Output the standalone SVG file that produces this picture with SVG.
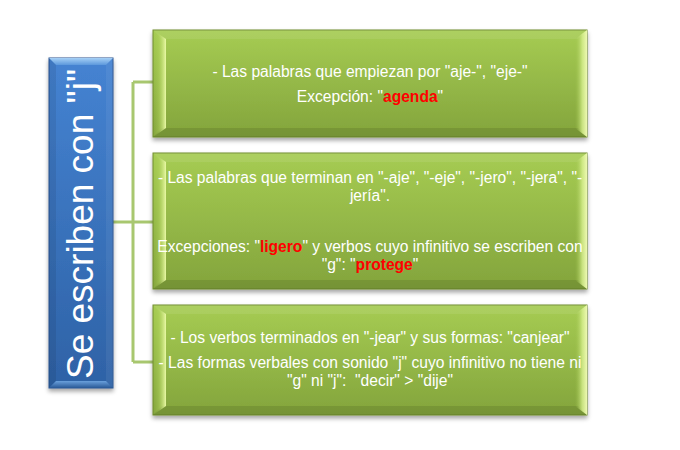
<svg xmlns="http://www.w3.org/2000/svg" width="680" height="450" viewBox="0 0 680 450">
<style>
.t{font-family:"Liberation Sans",Arial,sans-serif;font-size:15.6px;fill:#ffffff;text-anchor:middle}
.r{fill:#ff0000;font-weight:bold}
.conn{stroke:#a8c76f;stroke-width:3;fill:none}
.gbox{fill:url(#gGreen);stroke:#6e8c2e;stroke-width:1}
.gl{fill:url(#gLeft)}
.gr{fill:url(#gRight)}
.gt{fill:#ffffff;fill-opacity:0.08}
.gb{fill:#000000;fill-opacity:0.1}
</style>
<defs>
<filter id="sh" x="-10%" y="-10%" width="120%" height="130%">
<feDropShadow dx="0" dy="3" stdDeviation="2" flood-color="#000" flood-opacity="0.35"/>
</filter>
<linearGradient id="gGreen" x1="0" y1="0" x2="0" y2="1">
<stop offset="0" stop-color="#a6cc53"/>
<stop offset="1" stop-color="#83a43c"/>
</linearGradient>
<linearGradient id="gLeft" x1="0" y1="0" x2="1" y2="0">
<stop offset="0" stop-color="#a4c852" stop-opacity="0"/>
<stop offset="0.45" stop-color="#b6d863" stop-opacity="0.4"/>
<stop offset="1" stop-color="#eaf9a6"/>
</linearGradient>
<linearGradient id="gRight" x1="0" y1="0" x2="1" y2="0">
<stop offset="0" stop-color="#a4c852" stop-opacity="0"/>
<stop offset="0.6" stop-color="#d8f090" stop-opacity="0.8"/>
<stop offset="1" stop-color="#eef9b2"/>
</linearGradient>
<linearGradient id="gBlue" x1="0" y1="0" x2="0" y2="1">
<stop offset="0" stop-color="#4583d2"/>
<stop offset="1" stop-color="#2e62a6"/>
</linearGradient>
<linearGradient id="gBlueTop" x1="0" y1="0" x2="0" y2="1">
<stop offset="0" stop-color="#a6d0f6"/>
<stop offset="1" stop-color="#5c98dc"/>
</linearGradient>
<linearGradient id="gBlueBot" x1="0" y1="0" x2="0" y2="1">
<stop offset="0" stop-color="#6aa0dc"/>
<stop offset="1" stop-color="#285896"/>
</linearGradient>
</defs>
<rect width="680" height="450" fill="#ffffff"/>

<g id="connectors">
<path class="conn" d="M113 222 H133 M133 82 V362 M133 82 H153 M133 222 H153 M133 362 H153"/>
</g>

<g id="root">
<rect x="49" y="58" width="64" height="330" fill="url(#gBlue)" stroke="#2a5590" stroke-width="1" filter="url(#sh)"/>
<polygon points="49,58 113,58 106,65 56,65" fill="url(#gBlueTop)"/>
<polygon points="49,58 56,65 56,381 49,388" fill="#000" fill-opacity="0.08"/>
<polygon points="113,58 106,65 106,381 113,388" fill="#fff" fill-opacity="0.06"/>
<polygon points="49,388 56,381 106,381 113,388" fill="url(#gBlueBot)"/>
<text transform="translate(93,224) rotate(-90)" x="0" y="0" style="font-family:'Liberation Sans',Arial,sans-serif;font-size:37px;fill:#ffffff;text-anchor:middle">Se escriben con "j"</text>
</g>

<g id="box1">
<rect class="gbox" x="153" y="30" width="434" height="107" filter="url(#sh)"/>
<polygon class="gt" points="153,30 587,30 578,39 162,39"/>
<polygon class="gb" points="153,137 162,128 578,128 587,137"/>
<polygon class="gl" points="153,30 166,39 166,128 153,137"/>
<polygon class="gr" points="587,30 575,39 575,128 587,137"/>
<text class="t" x="370" y="77">- Las palabras que empiezan por "aje-", "eje-"</text>
<text class="t" x="370" y="102">Excepción: "<tspan class="r">agenda</tspan>"</text>
</g>

<g id="box2">
<rect class="gbox" x="153" y="153" width="434" height="136" filter="url(#sh)"/>
<polygon class="gt" points="153,153 587,153 578,162 162,162"/>
<polygon class="gb" points="153,289 162,280 578,280 587,289"/>
<polygon class="gl" points="153,153 166,162 166,280 153,289"/>
<polygon class="gr" points="587,153 575,162 575,280 587,289"/>
<text class="t" x="370" y="183">- Las palabras que terminan en "-aje", "-eje", "-jero", "-jera", "-</text>
<text class="t" x="370" y="201">jería".</text>
<text class="t" x="370" y="252">Excepciones: "<tspan class="r">ligero</tspan>" y verbos cuyo infinitivo se escriben con</text>
<text class="t" x="370" y="270">"g": "<tspan class="r">protege</tspan>"</text>
</g>

<g id="box3">
<rect class="gbox" x="153" y="305" width="434" height="110" filter="url(#sh)"/>
<polygon class="gt" points="153,305 587,305 578,314 162,314"/>
<polygon class="gb" points="153,415 162,406 578,406 587,415"/>
<polygon class="gl" points="153,305 166,314 166,406 153,415"/>
<polygon class="gr" points="587,305 575,314 575,406 587,415"/>
<text class="t" x="370" y="343">- Los verbos terminados en "-jear" y sus formas: "canjear"</text>
<text class="t" x="370" y="368">- Las formas verbales con sonido "j" cuyo infinitivo no tiene ni</text>
<text class="t" x="370" y="386" xml:space="preserve">"g" ni "j":  "decir" &gt; "dije"</text>
</g>
</svg>
